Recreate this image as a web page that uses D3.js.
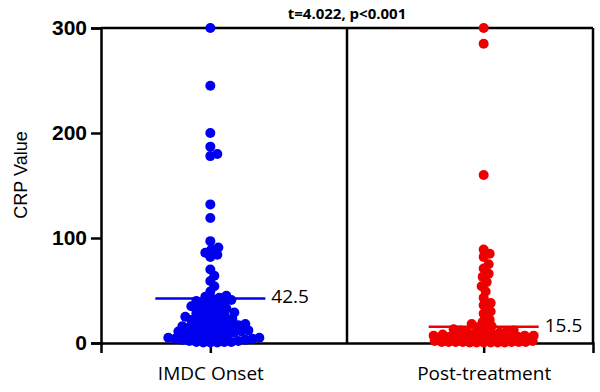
<!DOCTYPE html>
<html>
<head>
<meta charset="utf-8">
<script src="https://cdn.jsdelivr.net/npm/d3@7"></script>
<style>
  body { margin: 0; background: #fff; }
  svg { display: block; }
</style>
</head>
<body>
<div id="chart"></div>
<script>
// data
const categories = ["IMDC Onset", "Post-treatment"];
const imdcOnset = [
  300, 245, 200, 187, 180, 178, 132, 119, 97, 91, 89, 86, 84, 82, 70, 64, 59, 54, 49,
  45, 44, 43, 42, 41, 40, 39, 38, 37, 36, 35, 34, 33, 32, 31, 30, 29, 28, 27, 26, 25, 25,
  24, 23, 22, 21, 20, 20,
  19, 18, 18, 17, 16, 16, 15, 15, 14, 14, 13, 12, 12, 11, 11, 10, 10,
  9, 8, 8, 7, 6, 6, 5, 5, 4, 4, 3, 3, 2, 2, 1, 1, 1, 0.5, 0.5, 0.5
];
const postTreatment = [
  300, 285, 160, 89, 85, 82, 75, 71, 66, 63, 58, 54, 49, 43, 38, 36, 30, 28, 22, 20,
  18, 16, 15, 14, 13, 12, 12, 11, 10, 10, 9, 9, 8, 8, 8, 7, 7, 7, 6, 6, 6, 6, 5, 5, 5, 5, 5,
  4, 4, 4, 4, 4, 3, 3, 3, 3, 3, 3, 2, 2, 2, 2, 2, 2, 2, 1, 1, 1, 1, 1, 1, 1,
  0.5, 0.5, 0.5, 0.5, 0.5, 0.5
];
const meanValues = [42.5, 15.5];
const seriesColors = ["#0000ee", "#ee0000"];
const yTicks = [0, 100, 200, 300];
const titleText = "t=4.022, p<0.001";

const width = 600, height = 392;
const margin = {top: 28, right: 7, bottom: 49, left: 101};
const innerW = width - margin.left - margin.right;
const innerH = height - margin.top - margin.bottom;

const svg = d3.select("#chart").append("svg")
  .attr("width", width)
  .attr("height", height);

const g = svg.append("g")
  .attr("transform", `translate(${margin.left},${margin.top})`);

const x = d3.scalePoint()
  .domain(categories)
  .range([0, innerW])
  .padding(0.4);

const y = d3.scaleLinear()
  .domain([0, 300])
  .range([innerH, 0]);

const r = 5;

// beeswarm, capped in width: dots overlap when the band is full
function swarm(values) {
  const minDist = 6.5, maxOff = 50;
  const placed = [];
  values.slice().sort((a, b) => a - b).forEach(v => {
    const py = y(v);
    let best = 0, bestD = -1;
    for (let k = 0; k <= maxOff * 2; k++) {
      const cand = k === 0 ? 0 : (k % 2 ? 1 : -1) * Math.ceil(k / 2);
      const d = placed.length ? d3.min(placed, p => Math.hypot(p.dx - cand, p.y - py)) : Infinity;
      if (d >= minDist) { best = cand; bestD = d; break; }
      if (d > bestD) { best = cand; bestD = d; }
    }
    placed.push({v: v, y: py, dx: best});
  });
  return placed;
}

// frame: top, right, divider
const frame = g.append("g").attr("stroke", "#000").attr("stroke-width", 2.5).attr("fill", "none");
frame.append("line").attr("x1", 0).attr("x2", innerW).attr("y1", 0).attr("y2", 0);
frame.append("line").attr("x1", innerW).attr("x2", innerW).attr("y1", 0).attr("y2", innerH);
frame.append("line").attr("x1", innerW / 2).attr("x2", innerW / 2).attr("y1", 0).attr("y2", innerH);

// y axis
const yAxis = g.append("g")
  .call(d3.axisLeft(y).tickValues(yTicks).tickSize(10).tickPadding(4));
yAxis.select(".domain").attr("stroke-width", 2.5);
yAxis.selectAll(".tick line").attr("stroke-width", 2.5);
yAxis.selectAll("text")
  .attr("font-family", "Liberation Sans, Arial, sans-serif")
  .attr("font-size", 21)
  .attr("font-weight", "bold")
  .attr("fill", "#000");

// x axis
const xAxis = g.append("g")
  .attr("transform", `translate(0,${innerH})`)
  .call(d3.axisBottom(x).tickSize(10).tickPadding(14));
xAxis.select(".domain").attr("stroke-width", 2.5);
xAxis.selectAll(".tick line").attr("stroke-width", 2.5);
xAxis.selectAll("text")
  .attr("font-family", "Open Sans, sans-serif")
  .attr("font-size", 19)
  .attr("fill", "#000");

// y label
svg.append("text")
  .attr("transform", `translate(22,175) rotate(-90)`)
  .attr("text-anchor", "middle")
  .attr("dominant-baseline", "middle")
  .attr("font-family", "Liberation Sans, Arial, sans-serif")
  .attr("font-size", 18)
  .text("CRP Value");

// title
svg.append("text")
  .attr("x", margin.left + innerW / 2)
  .attr("y", 19)
  .attr("text-anchor", "middle")
  .attr("font-family", "Open Sans, sans-serif")
  .attr("font-size", 15)
  .attr("font-weight", "bold")
  .text(titleText);

// dots
[imdcOnset, postTreatment].forEach((vals, i) => {
  const cx = x(categories[i]);
  g.append("g")
    .selectAll("circle")
    .data(swarm(vals))
    .join("circle")
    .attr("cx", d => cx + d.dx)
    .attr("cy", d => d.y)
    .attr("r", r)
    .attr("fill", seriesColors[i]);

  // mean line + label
  g.append("line")
    .attr("x1", cx - 55).attr("x2", cx + 55)
    .attr("y1", y(meanValues[i])).attr("y2", y(meanValues[i]))
    .attr("stroke", seriesColors[i])
    .attr("stroke-width", 2.5);
  g.append("text")
    .attr("x", cx + 61)
    .attr("y", y(meanValues[i]))
    .attr("dominant-baseline", "middle")
    .attr("font-family", "Open Sans, sans-serif")
    .attr("font-size", 19)
    .text(meanValues[i]);
});
</script>
</body>
</html>
